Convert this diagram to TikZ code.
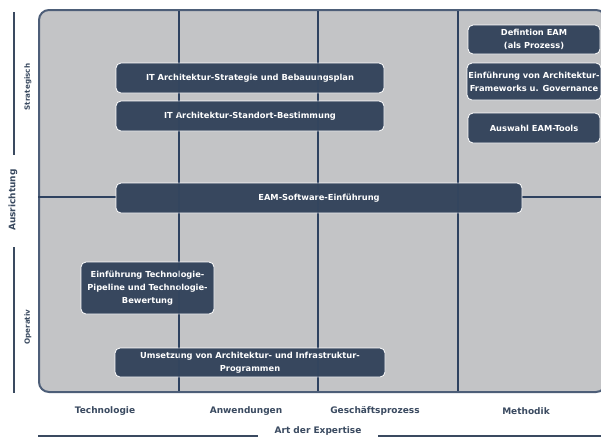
\documentclass[tikz,border=0pt]{standalone}
\usepackage{fontspec}
\setmainfont{DejaVu Sans}
\definecolor{panelfill}{HTML}{C3C4C6}
\definecolor{slate}{HTML}{37475E}
\definecolor{gridc}{HTML}{2E4260}
\definecolor{axtext}{HTML}{3A4A60}
\tikzset{
  box/.style={draw=white, line width=0.8pt, fill=slate, rounded corners=5pt, text=white,
    font=\fontsize{8.3}{12.8}\selectfont\bfseries, align=center, inner sep=0pt},
  gridline/.style={draw=gridc, line width=1.2pt},
  axlabel/.style={text=axtext, font=\fontsize{9}{10}\selectfont\bfseries},
  smalllabel/.style={text=axtext, font=\fontsize{7.2}{8}\selectfont\bfseries},
  axline/.style={draw=axtext, line width=1.2pt}
}
\begin{document}
\begin{tikzpicture}[x=1pt,y=-1pt]
\useasboundingbox[fill=white] (0,0) rectangle (601,437);
% panel
\draw[fill=panelfill, draw=gridc!85, line width=2pt, rounded corners=10pt] (39,10) rectangle (606,392);
% grid
\coordinate (v1t) at (179,11); \coordinate (v1b) at (179,391);
\coordinate (v2t) at (318,11); \coordinate (v2b) at (318,391);
\coordinate (v3t) at (458,11); \coordinate (v3b) at (458,391);
\coordinate (hl) at (38,197); \coordinate (hr) at (601,197);
\draw[gridline] (v1t) -- (v1b);
\draw[gridline] (v2t) -- (v2b);
\draw[gridline] (v3t) -- (v3b);
\draw[gridline] (hl) -- (hr);
% boxes
\node[box, minimum width=268pt, minimum height=30pt] (b1) at (250,78) {IT Architektur-Strategie und Bebauungsplan};
\node[box, minimum width=268pt, minimum height=30pt] (b2) at (250,116) {IT Architektur-Standort-Bestimmung};
\node[box, minimum width=406pt, minimum height=30pt] (b3) at (319,198) {EAM-Software-Einführung};
\node[box, minimum width=133pt, minimum height=52pt] (b4) at (147.5,288) {Einführung Technologie-\\Pipeline und Technologie-\\Bewertung};
\node[box, minimum width=270pt, minimum height=29pt] (b5) at (250,362.5) {Umsetzung von Architektur- und Infrastruktur-\\Programmen};
\node[box, minimum width=132pt, minimum height=29pt] (b6) at (534,39.5) {Defintion EAM\\(als Prozess)};
\node[box, minimum width=134pt, minimum height=37pt] (b7) at (534,81.5) {Einführung von Architektur-\\Frameworks u. Governance};
\node[box, minimum width=132pt, minimum height=30pt] (b8) at (534,128) {Auswahl EAM-Tools};
% grid lines showing through boxes
\begin{scope}[opacity=0.35]
\draw[gridline] (v1t) -- (v1b);
\draw[gridline] (v2t) -- (v2b);
\draw[gridline] (v3t) -- (v3b);
\end{scope}
% left axis
\node[axlabel, rotate=90] (ausr) at (13,200) {Ausrichtung};
\node[smalllabel, rotate=90] (strat) at (28,87) {Strategisch};
\node[smalllabel, rotate=90] (oper) at (28,327) {Operativ};
\coordinate (la1) at (14,12); \coordinate (la2) at (14,155);
\coordinate (la3) at (14,247); \coordinate (la4) at (14,393);
\draw[axline] (la1) -- (la2);
\draw[axline] (la3) -- (la4);
% bottom axis
\node[axlabel] (t1) at (105,411) {Technologie};
\node[axlabel] (t2) at (246,411) {Anwendungen};
\node[axlabel] (t3) at (375,411) {Geschäftsprozess};
\node[axlabel] (t4) at (526,411) {Methodik};
\node[axlabel] (art) at (318,431) {Art der Expertise};
\coordinate (ba1) at (38,436); \coordinate (ba2) at (258,436);
\coordinate (ba3) at (378,436); \coordinate (ba4) at (601,436);
\draw[axline] (ba1) -- (ba2);
\draw[axline] (ba3) -- (ba4);
\end{tikzpicture}
\end{document}
